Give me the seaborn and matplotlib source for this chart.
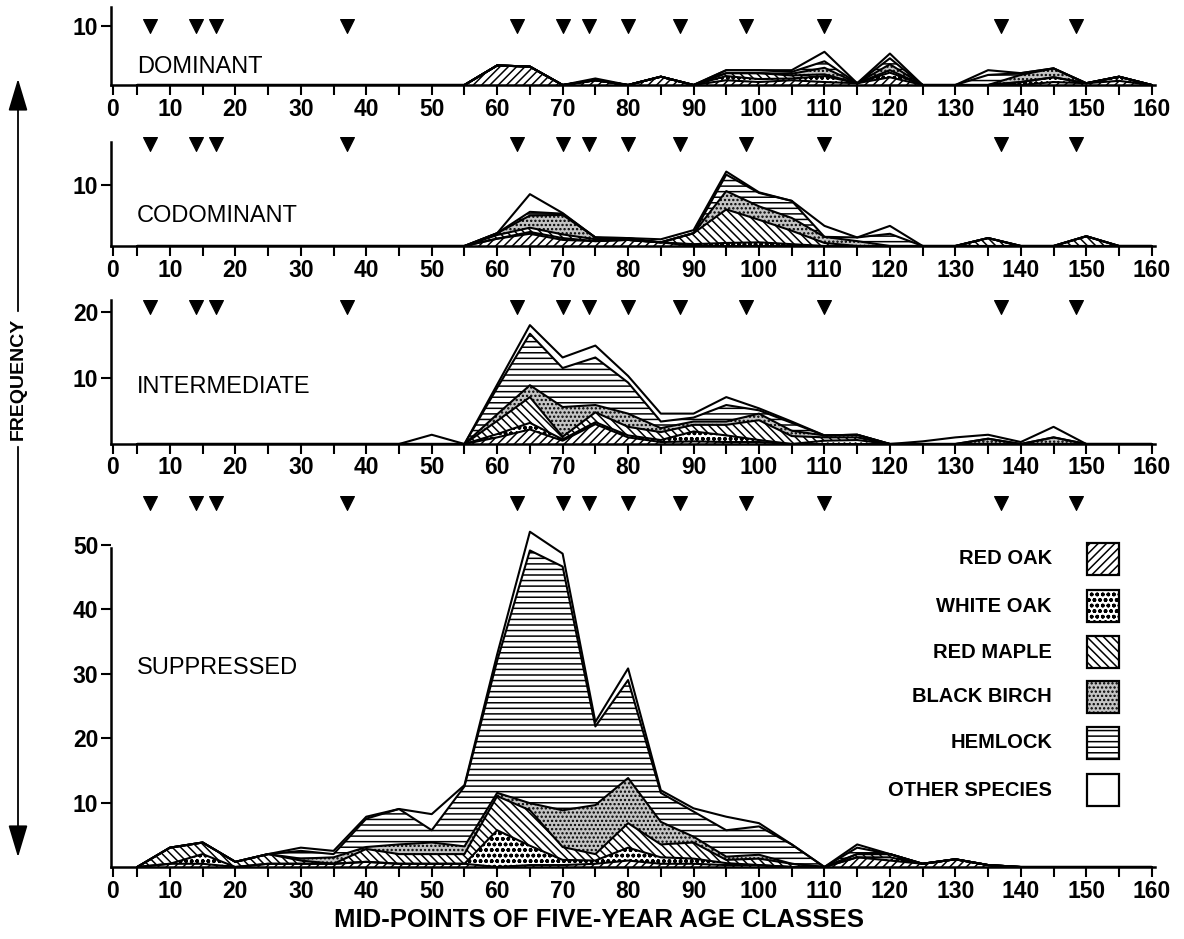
import numpy as np
import pandas as pd
import matplotlib
matplotlib.use("Agg")
import matplotlib.pyplot as plt
from matplotlib.patches import Rectangle, FancyArrowPatch
import seaborn as sns

# mid-points of the five-year age classes
age = list(range(5, 161, 5))

species = ["RED OAK", "WHITE OAK", "RED MAPLE", "BLACK BIRCH", "HEMLOCK", "OTHER SPECIES"]

# years marked with a triangle above every panel
events = [7, 14, 17, 37, 63, 70, 74, 80, 88, 98, 110, 137, 148.5]

#                 5  10  15  20  25  30  35  40  45  50   55  60  65  70  75  80  85  90  95 100  105 110 115 120 125 130 135 140 145 150  155 160
dom_red_oak     = [0, 0, 0, 0, 0, 0, 0, 0, 0, 0,   0, 3.3, 3.1, 0, 0.8, 0, 1.4, 0, 0.8, 0.5,   0.8, 0.5, 0.3, 1.3, 0, 0, 0, 0, 0.5, 0.3,   0.7, 0]
dom_white_oak   = [0, 0, 0, 0, 0, 0, 0, 0, 0, 0,   0, 0, 0, 0, 0, 0, 0, 0, 0.7, 0.5,   0.3, 1.0, 0, 0.8, 0, 0, 0, 0.5, 0.8, 0,   0.7, 0]
dom_red_maple   = [0, 0, 0, 0, 0, 0, 0, 0, 0, 0,   0, 0, 0, 0, 0, 0, 0, 0, 0.5, 1.0,   0.5, 0.3, 0, 0.4, 0, 0, 0, 0, 0, 0,   0, 0]
dom_black_birch = [0, 0, 0, 0, 0, 0, 0, 0, 0, 0,   0, 0, 0, 0, 0, 0, 0, 0, 0, 0,   0.3, 1.1, 0, 1.0, 0, 0, 0, 1.2, 1.5, 0,   0, 0]
dom_hemlock     = [0, 0, 0, 0, 0, 0, 0, 0, 0, 0,   0, 0, 0, 0, 0, 0, 0, 0, 0.5, 0.5,   0.3, 1.1, 0, 1.0, 0, 0, 1.7, 0.3, 0, 0,   0, 0]
dom_other       = [0, 0, 0, 0, 0, 0, 0, 0, 0, 0,   0, 0, 0, 0, 0.3, 0, 0, 0, 0, 0,   0.3, 1.6, 0, 0.8, 0, 0, 0.8, 0, 0, 0,   0, 0]

cod_red_oak     = [0, 0, 0, 0, 0, 0, 0, 0, 0, 0,   0, 1.2, 2.0, 1.0, 0.8, 1.0, 0.6, 0, 0, 0,   0, 0, 0, 0, 0, 0, 0, 0, 0, 0,   0, 0]
cod_white_oak   = [0, 0, 0, 0, 0, 0, 0, 0, 0, 0,   0, 0, 0.3, 0.3, 0, 0, 0, 0.3, 0.5, 0.6,   0.3, 0, 0, 0, 0, 0, 0, 0, 0, 0,   0, 0]
cod_red_maple   = [0, 0, 0, 0, 0, 0, 0, 0, 0, 0,   0, 0.6, 0.7, 0.6, 0.3, 0, 0, 1.8, 5.5, 3.7,   2.2, 0.5, 0, 0, 0, 0, 1.3, 0, 0, 1.6,   0, 0]
cod_black_birch = [0, 0, 0, 0, 0, 0, 0, 0, 0, 0,   0, 0.3, 2.0, 3.2, 0.3, 0, 0, 0, 3.0, 2.2,   2.1, 1.0, 0.8, 0, 0, 0, 0, 0, 0, 0,   0, 0]
cod_hemlock     = [0, 0, 0, 0, 0, 0, 0, 0, 0, 0,   0, 0, 0.6, 0.2, 0, 0.3, 0, 0, 2.7, 2.2,   2.8, 0, 0.6, 2.0, 0, 0, 0, 0, 0, 0,   0, 0]
cod_other       = [0, 0, 0, 0, 0, 0, 0, 0, 0, 0,   0, 0, 2.9, 0.1, 0, 0, 0.5, 0.5, 0.5, 0.1,   0, 1.8, 0, 1.3, 0, 0, 0, 0, 0, 0,   0, 0]

int_red_oak     = [0, 0, 0, 0, 0, 0, 0, 0, 0, 0,   0, 1.0, 2.2, 0.5, 3.0, 1.0, 0.3, 0.4, 0.3, 0.3,   0, 0, 0, 0, 0, 0, 0, 0, 0, 0,   0, 0]
int_white_oak   = [0, 0, 0, 0, 0, 0, 0, 0, 0, 0,   0, 0.5, 1.0, 0.2, 0.3, 0.3, 0.3, 1.5, 1.0, 0.3,   0, 0.5, 0.6, 0, 0, 0, 0, 0, 0, 0,   0, 0]
int_red_maple   = [0, 0, 0, 0, 0, 0, 0, 0, 0, 0,   0, 2.0, 3.9, 0.4, 1.5, 1.3, 1.2, 1.0, 1.6, 3.0,   1.2, 0.5, 0.4, 0, 0, 0, 0, 0, 0, 0,   0, 0]
int_black_birch = [0, 0, 0, 0, 0, 0, 0, 0, 0, 0,   0, 1.0, 1.8, 4.5, 1.1, 2.0, 0.6, 0.5, 0.5, 1.0,   0.8, 0.3, 0.4, 0, 0, 0, 0.8, 0, 1.0, 0,   0, 0]
int_hemlock     = [0, 0, 0, 0, 0, 0, 0, 0, 0, 0,   0, 4.0, 7.8, 5.9, 7.2, 4.7, 1.0, 0.6, 2.5, 0.5,   1.2, 0, 0, 0, 0, 0, 0, 0, 0, 0,   0, 0]
int_other       = [0, 0, 0, 0, 0, 0, 0, 0, 0, 1.4,   0, 0.5, 1.3, 1.6, 1.8, 1.0, 1.2, 0.6, 1.2, 0.3,   0.2, 0, 0, 0, 0.4, 1.0, 0.6, 0.3, 1.6, 0,   0, 0]

sup_red_oak     = [0, 0.5, 0.5, 0, 0.5, 0.5, 0.5, 0.8, 0.5, 0.5,   0.5, 0, 0.3, 0.3, 0.5, 1.0, 0.5, 0.5, 0.3, 0.3,   0, 0, 1.5, 1.0, 0.5, 1.2, 0.3, 0, 0, 0,   0, 0]
sup_white_oak   = [0, 0, 1.5, 0, 0, 0, 0, 0, 0, 0,   0, 5.7, 3.0, 0.8, 0.5, 2.0, 1.0, 0.8, 0.3, 0,   0, 0, 0, 0.5, 0, 0, 0, 0, 0, 0,   0, 0]
sup_red_maple   = [0, 2.5, 1.8, 0.8, 1.5, 0.5, 0, 2.0, 1.5, 1.5,   1.5, 5.3, 5.5, 2.0, 1.0, 3.8, 2.0, 2.5, 0.5, 1.0,   0.5, 0, 0.5, 0.5, 0, 0, 0, 0, 0, 0,   0, 0]
sup_black_birch = [0, 0, 0, 0, 0, 0.3, 1.0, 0.3, 1.5, 1.8,   1.2, 0.5, 1.1, 5.7, 7.6, 7.0, 3.5, 0.9, 0.5, 0.6,   0, 0, 0, 0, 0, 0, 0, 0, 0, 0,   0, 0]
sup_hemlock     = [0, 0, 0, 0, 0, 1.2, 0.5, 4.4, 5.5, 1.9,   9.3, 20.5, 39.2, 37.8, 12.2, 15.2, 4.5, 3.9, 4.1, 4.4,   3.0, 0, 1.0, 0, 0, 0, 0, 0, 0, 0,   0, 0]
sup_other       = [0, 0, 0, 0, 0, 0.5, 0.5, 0.3, 0, 2.5,   0.2, 1.0, 2.9, 2.0, 0.7, 1.8, 0.4, 0.5, 2.1, 0.5,   0, 0, 0.5, 0, 0, 0, 0, 0, 0, 0,   0, 0]

dominant = [dom_red_oak, dom_white_oak, dom_red_maple, dom_black_birch, dom_hemlock, dom_other]
codominant = [cod_red_oak, cod_white_oak, cod_red_maple, cod_black_birch, cod_hemlock, cod_other]
intermediate = [int_red_oak, int_white_oak, int_red_maple, int_black_birch, int_hemlock, int_other]
suppressed = [sup_red_oak, sup_white_oak, sup_red_maple, sup_black_birch, sup_hemlock, sup_other]

# fill styles (black & white print look)
hatches = ["////", "ooo", "\\\\\\\\", "....", "---", ""]
faces = ["white", "white", "white", "#c4c4c4", "white", "white"]

sns.set_theme(style="ticks")
plt.rcParams["font.family"] = ["Liberation Sans", "DejaVu Sans"]
plt.rcParams["hatch.linewidth"] = 1.1
plt.rcParams["hatch.color"] = "black"
for key in ["text.color", "xtick.color", "ytick.color", "axes.edgecolor", "axes.labelcolor"]:
    plt.rcParams[key] = "black"

tick_font = ["Liberation Sans Narrow", "Liberation Sans", "DejaVu Sans"]

W, H = 1184, 939
fig = plt.figure(figsize=(W / 100, H / 100), dpi=100)


def draw_panel(layers, name, bottom_px, top_px, ymax, yticks, name_y, tri_y, spine_top=None):
    ax = fig.add_axes([111 / W, 1 - bottom_px / H, 1044 / W, (bottom_px - top_px) / H])
    ax.set_facecolor("none")
    tops = np.cumsum(np.array(layers, dtype=float), axis=0)
    bottoms = np.vstack([np.zeros(len(age)), tops[:-1]])
    for i in range(len(species)):
        ax.fill_between(age, bottoms[i], tops[i], facecolor=faces[i], edgecolor="black",
                        hatch=hatches[i], linewidth=0, zorder=2)
    outline = pd.DataFrame({"age": np.tile(age, len(species)),
                            "top": tops.ravel(),
                            "species": np.repeat(species, len(age))})
    sns.lineplot(data=outline, x="age", y="top", hue="species", palette=["black"] * 6,
                 legend=False, linewidth=1.5, ax=ax, zorder=3)
    sns.scatterplot(x=events, y=[tri_y] * len(events), marker="v", s=100, color="black",
                    edgecolor="black", ax=ax, clip_on=False, zorder=5)

    ax.set_xlim(1, 160.5)
    ax.set_ylim(0, ymax)
    ax.set_xlabel("")
    ax.set_ylabel("")
    sns.despine(ax=ax)
    for s in ["left", "bottom"]:
        ax.spines[s].set_linewidth(1.8)
        ax.spines[s].set_color("black")
    if spine_top is not None:
        ax.spines["left"].set_bounds(0, spine_top)

    xt = [1.3] + list(range(5, 161, 5))
    xl = ["0"] + [str(v) if v % 10 == 0 else "" for v in range(5, 161, 5)]
    ax.set_xticks(xt)
    ax.set_xticklabels(xl, fontweight="bold", fontsize=16.5, family=tick_font)
    ax.set_yticks(yticks)
    ax.set_yticklabels([str(v) for v in yticks], fontweight="bold", fontsize=16.5, family=tick_font)
    ax.tick_params(axis="both", direction="out", length=7, width=1.5, color="black",
                   labelcolor="black", pad=2)
    ax.text(5, name_y, name, fontsize=17, ha="left", va="center", color="black")
    return ax


draw_panel(dominant, "DOMINANT", 85, 7.3, 13.1, [10], 3.0, 10.0)
draw_panel(codominant, "CODOMINANT", 246, 141.7, 17.1, [10], 5.0, 16.8)
draw_panel(intermediate, "INTERMEDIATE", 444, 300, 21.8, [10, 20], 8.7, 20.8)
draw_panel(suppressed, "SUPPRESSED", 867, 495, 57.7, [10, 20, 30, 40, 50], 30.9, 56.4, spine_top=49.5)

# legend drawn by hand: labels right-aligned, boxes on the right
row_y = [559, 606, 652, 697, 743, 790]
for i, lab in enumerate(species):
    fig.text(1052 / W, 1 - row_y[i] / H, lab, ha="right", va="center",
             fontsize=14.5, fontweight="bold", color="black")
    fig.add_artist(Rectangle((1087 / W, 1 - (row_y[i] + 16) / H), 32 / W, 32 / H,
                             transform=fig.transFigure, facecolor=faces[i], edgecolor="black",
                             hatch=hatches[i], linewidth=1.6))

# FREQUENCY label with arrows
fig.text(18 / W, 1 - 379 / H, "FREQUENCY", rotation=90, ha="center", va="center",
         fontsize=14, fontweight="bold", color="black")
for y0, y1 in [(314, 76), (444, 860)]:
    fig.add_artist(FancyArrowPatch((18 / W, 1 - y0 / H), (18 / W, 1 - y1 / H),
                                   transform=fig.transFigure,
                                   arrowstyle="-|>,head_length=1.0,head_width=0.3",
                                   mutation_scale=20, linewidth=1.3, color="black"))

fig.text(599 / W, 1 - 920 / H, "MID-POINTS OF FIVE-YEAR AGE CLASSES", ha="center", va="center",
         fontsize=18.5, fontweight="bold", color="black")

fig.savefig("out.png", dpi=100)
